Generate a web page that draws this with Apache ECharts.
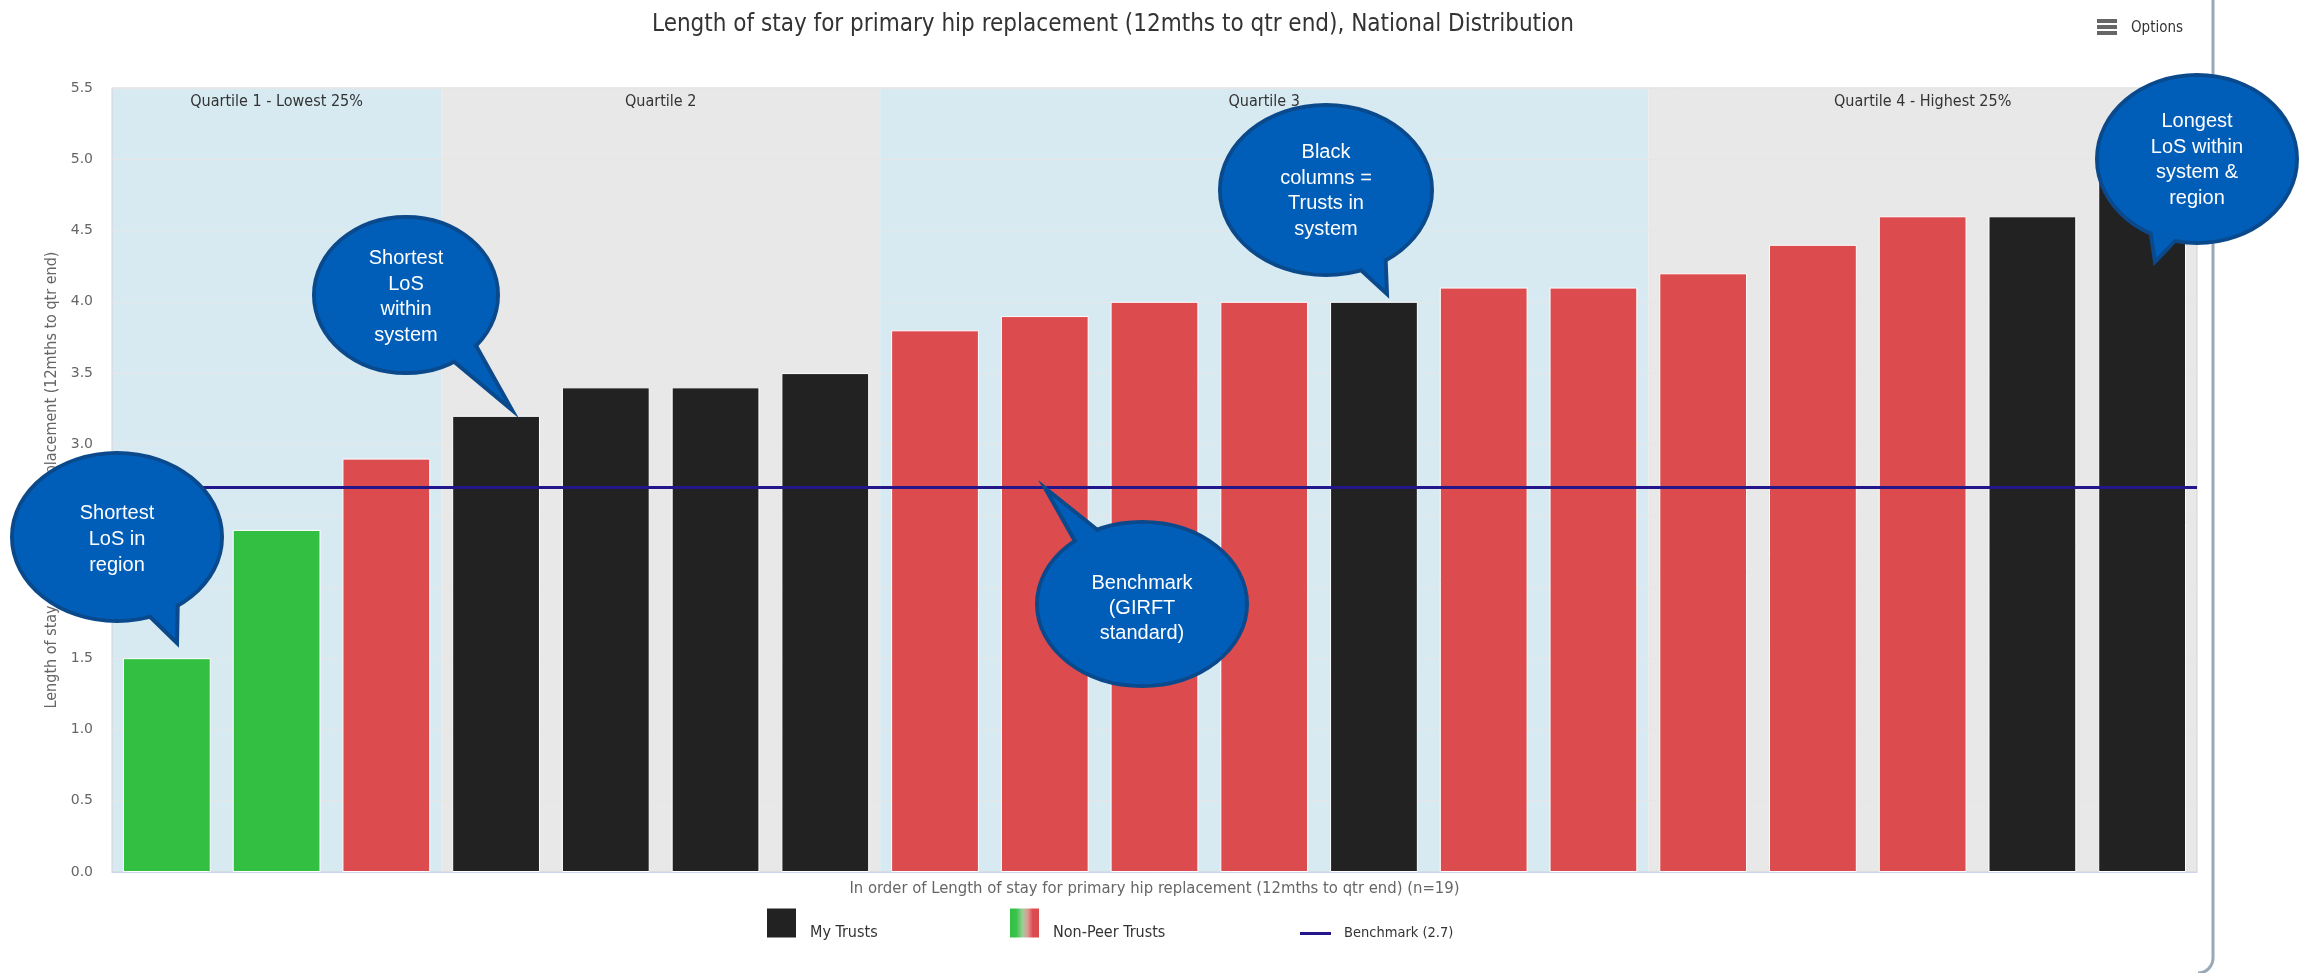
<!DOCTYPE html>
<html><head><meta charset="utf-8">
<script src="https://cdn.jsdelivr.net/npm/echarts@6/dist/echarts.min.js"></script>
<style>html,body{margin:0;padding:0;background:#fff}#chart{width:2305px;height:973px}</style>
</head><body><div id="chart"></div>
<script>
// ---- data ----
const categories = ['1','2','3','4','5','6','7','8','9','10','11','12','13','14','15','16','17','18','19'];
const losValues = [1.5, 2.4, 2.9, 3.2, 3.4, 3.4, 3.5, 3.8, 3.9, 4.0, 4.0, 4.0, 4.1, 4.1, 4.2, 4.4, 4.6, 4.6, 4.9];
const barKind = ['green','green','red','black','black','black','black','red','red','red','red','black','red','red','red','red','red','black','black'];
const benchmarkValue = 2.7;
const quartileBreaks = [0, 3, 7, 14, 19];
const quartileLabels = ['Quartile 1 - Lowest 25%', 'Quartile 2', 'Quartile 3', 'Quartile 4 - Highest 25%'];
const yMin = 0, yMax = 5.5, yStep = 0.5;

// ---- styles ----
const COND = "'DejaVu Sans Condensed','Liberation Sans Narrow','DejaVu Sans',sans-serif";
const KIND_COLOR = {green:'#32bf42', red:'#dc4b4d', black:'#222222'};
const BAND_COLORS = ['#d7eaf2', '#e8e8e8', '#d7eaf2', '#e8e8e8'];
const BENCH_COLOR = '#22168a';
const BLUE = '#005eb8', EDGE = '#0a4a8c';

const myData = losValues.map((v, i) => barKind[i] === 'black' ? v : '-');
const otherData = losValues.map((v, i) => barKind[i] === 'black' ? '-' : {value: v, itemStyle: {color: KIND_COLOR[barKind[i]]}});
const bandData = quartileLabels.map((lab, i) => [
  {xAxis: quartileBreaks[i], name: lab, itemStyle: {color: BAND_COLORS[i]}},
  {xAxis: quartileBreaks[i + 1]}
]);

function bubble(cx, cy, rx, ry, tail, text, ty, lh) {
  return {
    type: 'group', z: 100,
    children: [
      {type: 'ellipse', z: 100, shape: {cx, cy, rx, ry}, style: {fill: BLUE, stroke: EDGE, lineWidth: 4}},
      {type: 'polygon', z: 101, shape: {points: tail}, style: {fill: BLUE, stroke: EDGE, lineWidth: 4, lineJoin: 'miter'}},
      {type: 'ellipse', z: 102, shape: {cx, cy, rx: rx - 2, ry: ry - 2}, style: {fill: BLUE}},
      {type: 'text', z: 103, x: cx, y: ty, style: {text, fill: '#ffffff', font: "20px 'Liberation Sans', Arial, sans-serif", align: 'center', verticalAlign: 'middle', lineHeight: lh}}
    ]
  };
}

const legendText = {fontFamily: COND, fontSize: 16, color: '#333333', lineHeight: 19, padding: [0, 0, 0, 8]};

const chart = echarts.init(document.getElementById('chart'), null, {renderer: 'canvas'});
chart.setOption({
  animation: false,
  backgroundColor: '#ffffff',
  title: {
    text: 'Length of stay for primary hip replacement (12mths to qtr end), National Distribution',
    left: 1113, top: 13, textAlign: 'center', padding: 0,
    textStyle: {fontFamily: COND, fontSize: 24, fontWeight: 'normal', color: '#333333'}
  },
  grid: {left: 112, right: 108, top: 88, bottom: 101, show: true, borderColor: '#d3d3d3', borderWidth: 1, containLabel: false},
  xAxis: [
    {
      type: 'category', data: categories,
      axisLabel: {show: false}, axisTick: {show: false},
      axisLine: {lineStyle: {color: '#ccd6eb', width: 1}},
      name: 'In order of Length of stay for primary hip replacement (12mths to qtr end) (n=19)',
      nameLocation: 'middle', nameGap: 8,
      nameTextStyle: {fontFamily: COND, fontSize: 16.5, color: '#666666'}
    },
    {type: 'value', min: 0, max: categories.length, show: false}
  ],
  yAxis: {
    type: 'value', min: yMin, max: yMax, interval: yStep,
    axisLabel: {formatter: v => v.toFixed(1), color: '#666666', fontFamily: "'DejaVu Sans',sans-serif", fontSize: 14, margin: 19},
    splitLine: {lineStyle: {color: '#e6e6e6', width: 1}},
    axisLine: {show: false}, axisTick: {show: false},
    name: 'Length of stay for primary hip replacement (12mths to qtr end)',
    nameLocation: 'middle', nameGap: 51,
    nameTextStyle: {fontFamily: COND, fontSize: 16, color: '#666666'}
  },
  legend: [
    {data: ['My Trusts'], left: 765, top: 904, padding: 0, itemWidth: 31, itemHeight: 31, icon: 'rect',
     formatter: name => '\n' + name, textStyle: legendText},
    {data: ['Non-Peer Trusts'], left: 1008, top: 904, padding: 0, itemWidth: 31, itemHeight: 31, icon: 'rect',
     formatter: name => '\n' + name, textStyle: legendText},
    {data: ['Benchmark (2.7)'], left: 1300, top: 925, padding: 0, itemWidth: 31, itemHeight: 3, icon: 'rect',
     textStyle: Object.assign({}, legendText, {fontSize: 14.5, lineHeight: 17})}
  ],
  series: [
    {
      name: 'bands', type: 'line', xAxisIndex: 1, yAxisIndex: 0, data: [], silent: true, z: 0,
      markArea: {
        silent: true, z: -1,
        label: {show: true, position: 'insideTop', distance: 6, fontFamily: COND, fontSize: 16, color: '#333333'},
        data: bandData
      }
    },
    {
      name: 'My Trusts', type: 'bar', stack: 'los', data: myData, barCategoryGap: '20%',
      itemStyle: {color: KIND_COLOR.black, borderColor: '#ffffff', borderWidth: 1}
    },
    {
      name: 'Non-Peer Trusts', type: 'bar', stack: 'los', data: otherData, barCategoryGap: '20%',
      itemStyle: {
        color: new echarts.graphic.LinearGradient(0, 0, 1, 0, [
          {offset: 0, color: '#2fbf40'}, {offset: 0.25, color: '#3cc24a'}, {offset: 0.45, color: '#9fcf9a'},
          {offset: 0.6, color: '#e29595'}, {offset: 0.75, color: '#dc4b4d'}, {offset: 1, color: '#dc4b4d'}
        ]),
        borderColor: '#ffffff', borderWidth: 1
      }
    },
    {
      name: 'Benchmark (2.7)', type: 'line', data: [], symbol: 'none', showSymbol: false,
      itemStyle: {color: BENCH_COLOR}, lineStyle: {color: BENCH_COLOR, width: 3},
      markLine: {
        silent: true, symbol: ['none', 'none'], label: {show: false},
        lineStyle: {color: BENCH_COLOR, width: 3, type: 'solid'},
        data: [{yAxis: benchmarkValue}]
      }
    }
  ],
  graphic: [
    // Options button
    {type: 'rect', z: 100, shape: {x: 2097, y: 19, width: 20, height: 4}, style: {fill: '#666666'}},
    {type: 'rect', z: 100, shape: {x: 2097, y: 25, width: 20, height: 4}, style: {fill: '#666666'}},
    {type: 'rect', z: 100, shape: {x: 2097, y: 31, width: 20, height: 4}, style: {fill: '#666666'}},
    {type: 'text', z: 100, x: 2131, y: 28, style: {text: 'Options', fill: '#333333', font: "15px " + COND, verticalAlign: 'middle'}},
    // container frame edge
    {type: 'line', z: 100, shape: {x1: 2213, y1: 0, x2: 2213, y2: 958}, style: {stroke: '#9aa7b4', lineWidth: 3}},
    {type: 'arc', z: 100, shape: {cx: 2198, cy: 958, r: 15, startAngle: 0, endAngle: Math.PI / 2, clockwise: true}, style: {stroke: '#9aa7b4', lineWidth: 3, fill: 'none'}},
    // callouts
    bubble(117, 537, 105, 84, [[138, 605], [177, 643], [178, 590]], 'Shortest\nLoS in\nregion', 539, 26),
    bubble(406, 295, 92, 78, [[440, 350], [512, 410], [470, 335]], 'Shortest\nLoS\nwithin\nsystem', 297, 25.5),
    bubble(1326, 190, 106, 85, [[1350, 260], [1387, 294], [1385, 245]], 'Black\ncolumns =\nTrusts in\nsystem', 191, 25.5),
    bubble(2197, 159, 100, 84, [[2148, 215], [2155, 262], [2190, 225]], 'Longest\nLoS within\nsystem &\nregion', 160, 25.5),
    bubble(1142, 604, 105, 82, [[1080, 550], [1045, 488], [1110, 540]], 'Benchmark\n(GIRFT\nstandard)', 608, 25)
  ]
});
</script>
</body></html>
